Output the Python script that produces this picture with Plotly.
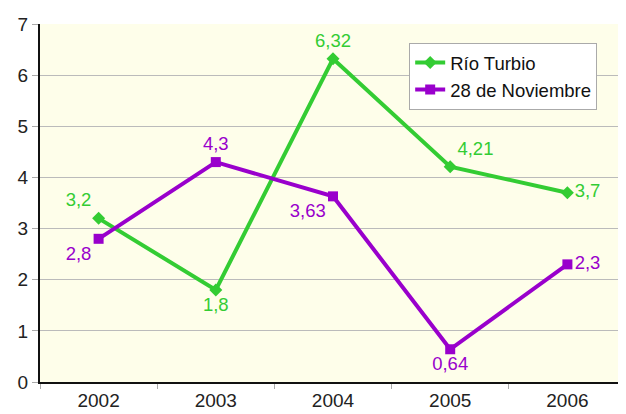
import plotly.graph_objects as go

years = ["2002", "2003", "2004", "2005", "2006"]
rio_turbio = [3.2, 1.8, 6.32, 4.21, 3.7]
noviembre = [2.8, 4.3, 3.63, 0.64, 2.3]
rio_labels = ["3,2", "1,8", "6,32", "4,21", "3,7"]
nov_labels = ["2,8", "4,3", "3,63", "0,64", "2,3"]

green = "#33CC33"
purple = "#9900CC"
FONT = "Liberation Sans, Arial, sans-serif"

fig = go.Figure()
fig.add_trace(go.Scatter(
    x=years, y=rio_turbio, name="Río Turbio", mode="lines+markers+text",
    line=dict(color=green, width=4),
    marker=dict(symbol="diamond", size=10, color=green),
    text=rio_labels,
    textposition=["top left", "bottom center", "top center", "top right", "middle right"],
    textfont=dict(color=green, size=18.5, family=FONT),
))
fig.add_trace(go.Scatter(
    x=years, y=noviembre, name="28 de Noviembre", mode="lines+markers+text",
    line=dict(color=purple, width=4),
    marker=dict(symbol="square", size=10, color=purple),
    text=nov_labels,
    textposition=["bottom left", "top center", "bottom left", "bottom center", "middle right"],
    textfont=dict(color=purple, size=18.5, family=FONT),
))

fig.update_layout(
    width=618, height=406,
    margin=dict(l=32, r=0, t=16, b=32),
    paper_bgcolor="white",
    plot_bgcolor="#FEFEEA",
    font=dict(family=FONT, size=18, color="#222222"),
    showlegend=True,
    legend=dict(
        x=0.63, y=0.947, xanchor="left", yanchor="top",
        bgcolor="white", bordercolor="#AAAAAA", borderwidth=1,
        font=dict(size=18.5, color="#111111"),
        itemwidth=30, tracegroupgap=2,
    ),
    xaxis=dict(
        type="category", range=[-0.5, 4.5],
        showline=True, linecolor="#111111", linewidth=2,
        ticks="outside", tickson="boundaries", ticklen=5, tickcolor="#AAAAAA",
        showgrid=False, zeroline=False,
        tickfont=dict(size=19, color="#222222"),
    ),
    yaxis=dict(
        range=[0, 7], dtick=1,
        showline=True, linecolor="#111111", linewidth=2,
        ticks="outside", ticklen=6, tickcolor="#AAAAAA",
        showgrid=True, gridcolor="#BBBBBB", gridwidth=1,
        zeroline=False,
        tickfont=dict(size=19, color="#222222"),
    ),
)

fig.write_html("out.html")
